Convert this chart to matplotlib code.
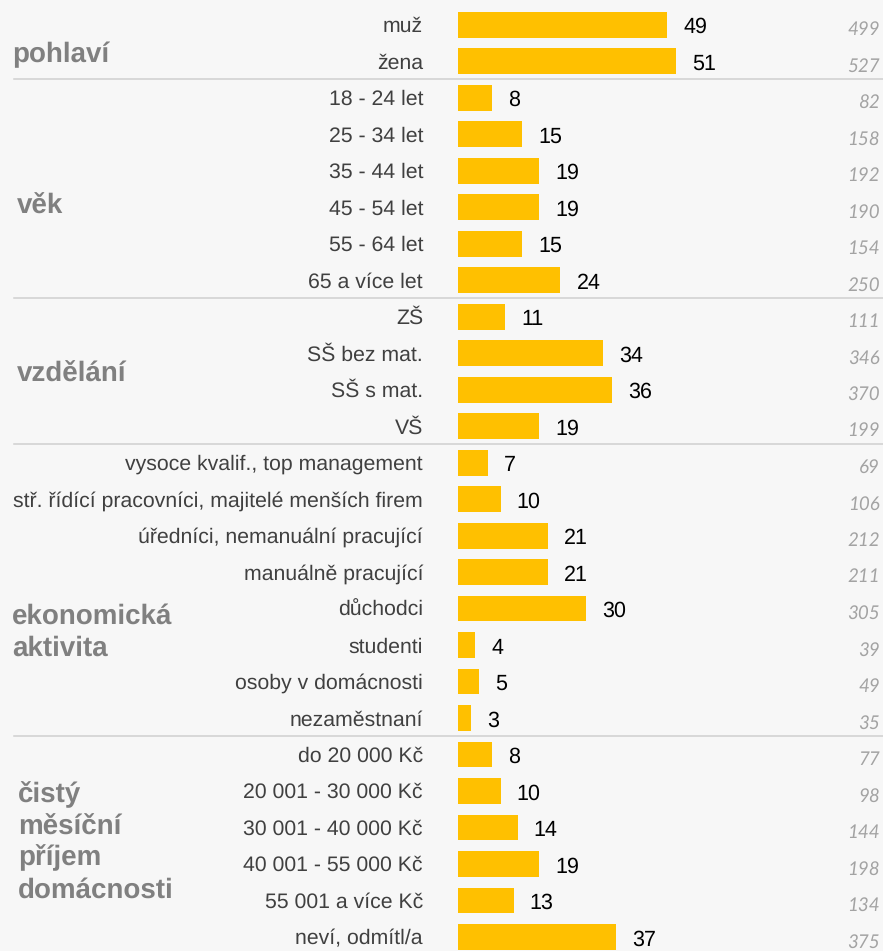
import matplotlib
matplotlib.use("Agg")
import matplotlib.pyplot as plt
import matplotlib.transforms as mtransforms

plt.rcParams["text.hinting"] = "no_hinting"

# ---- data ----
groups = ["pohlaví", "věk", "vzdělání", "ekonomická\naktivita",
          "čistý\nměsíční\npříjem\ndomácnosti"]
group_sizes = [2, 6, 4, 8, 6]
categories = [
    "muž", "žena",
    "18 - 24 let", "25 - 34 let", "35 - 44 let", "45 - 54 let", "55 - 64 let", "65 a více let",
    "ZŠ", "SŠ bez mat.", "SŠ s mat.", "VŠ",
    "vysoce kvalif., top management", "stř. řídící pracovníci, majitelé menších firem",
    "úředníci, nemanuální pracující", "manuálně pracující", "důchodci", "studenti",
    "osoby v domácnosti", "nezaměstnaní",
    "do 20 000 Kč", "20 001 - 30 000 Kč", "30 001 - 40 000 Kč", "40 001 - 55 000 Kč",
    "55 001 a více Kč", "neví, odmítl/a",
]
percent = [49, 51,
           8, 15, 19, 19, 15, 24,
           11, 34, 36, 19,
           7, 10, 21, 21, 30, 4, 5, 3,
           8, 10, 14, 19, 13, 37]
counts = [499, 527,
          82, 158, 192, 190, 154, 250,
          111, 346, 370, 199,
          69, 106, 212, 211, 305, 39, 49, 35,
          77, 98, 144, 198, 134, 375]

# ---- style ----
W, H = 883, 951
BG = "#f7f7f7"
BAR = "#FFC000"
row0_px, row_px = 24.7, 36.49
bar_x0_px = 458
px_per_unit = 4.27

fig = plt.figure(figsize=(W / 100, H / 100), dpi=100, facecolor=BG)
ax = fig.add_axes([bar_x0_px / W, 0, 1 - bar_x0_px / W, 1])
ax.set_facecolor(BG)
ax.set_xlim(0, (W - bar_x0_px) / px_per_unit)
ax.set_ylim((H - row0_px) / row_px, -row0_px / row_px)
ax.axis("off")

n = len(categories)
ys = list(range(n))
ax.barh(ys, percent, height=0.71, color=BAR, edgecolor="none")

blend = mtransforms.blended_transform_factory(fig.transFigure, ax.transData)

for y, cat, p, c in zip(ys, categories, percent, counts):
    # category label
    ax.text(423 / W, y + 0.2, cat, transform=blend, ha="right", va="baseline",
            fontsize=15.3, family="Liberation Sans", color="#404040", clip_on=False)
    # value label
    ax.annotate(str(p), xy=(p, y + 0.235), xytext=(11.5, 0), textcoords="offset points",
                ha="left", va="baseline", fontsize=15.5, family="Liberation Sans",
                color="#000000")
    # count label
    ax.text(880 / W, y + 0.285, str(c), transform=blend, ha="right", va="baseline",
            fontsize=13.5, family="Lato", style="italic", color="#a3a3a3", clip_on=False)

# separators between groups
start = 0
for gsize in group_sizes[:-1]:
    start += gsize
    ax.plot([14 / W, 1], [start - 0.5, start - 0.5], transform=blend,
            color="#cfcfcf", lw=1.1, clip_on=False)

# group labels (baseline positions in row units, x in px)
group_pos = [
    (12, [1.02]),
    (17, [5.19]),
    (17, [9.79]),
    (12, [16.42, 17.30]),
    (18, [21.30, 22.19, 23.03, 23.93]),
]
for gname, (xpx, ybs) in zip(groups, group_pos):
    for line, yb in zip(gname.split("\n"), ybs):
        ax.text(xpx / W, yb, line, transform=blend, ha="left", va="baseline",
                fontsize=20, fontweight="bold", family="Liberation Sans",
                color="#808080", clip_on=False)

fig.savefig("out.png", dpi=100, facecolor=BG)
